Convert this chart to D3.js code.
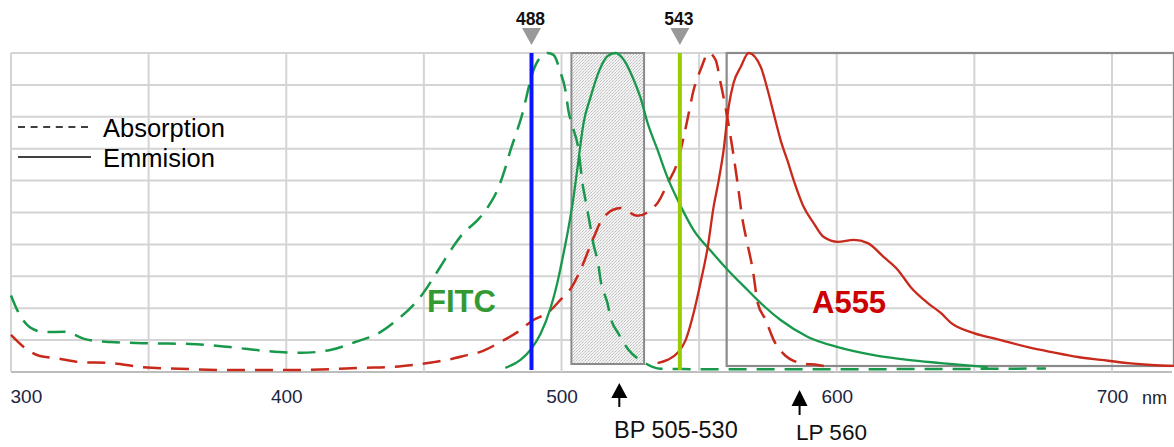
<!DOCTYPE html>
<html><head><meta charset="utf-8">
<script src="https://cdn.jsdelivr.net/npm/d3@7"></script>
<style>
html,body{margin:0;padding:0;background:#fff;}
svg{display:block;font-family:"Liberation Sans",Arial,Helvetica,sans-serif;}
</style></head>
<body>
<svg id="chart" width="1174" height="447"></svg>
<script>
// ---- data (wavelength nm, relative intensity %) ----
const xTickValues = [300, 400, 500, 600, 700];
const xGridValues = [300, 350, 400, 450, 500, 550, 600, 650, 700];
const yGridValues = [0, 10, 20, 30, 40, 50, 60, 70, 80, 90, 100];
const laserLabels = ["488", "543"];
const laserDrawnAt = [489.1, 543];   // laser line positions as drawn in the picture
const bpFilter = [503.6, 530];   // BP 505-530 box as drawn
const lpFilter = [560, 722.5];   // LP 560 box
const bpArrowAt = 521;
const lpArrowAt = 586.5;

const fitcAbsorption = [
 [300,24],[302.5,19],[306.9,14],[312.4,12.5],[319.6,12.6],[326.9,10.3],[336,9.4],[350.5,9],
 [365.1,8.8],[379.6,7.8],[392.4,6.6],[405.1,6],[416,6.9],[425.1,9.4],[434.2,12.5],[438.9,15.4],
 [448.7,23.5],[456,33],[460.4,39],[464.4,43.6],[469.5,47.6],[474.2,53],[476.7,57],[479.6,64],
 [481.5,69.6],[484,76],[485.8,81],[487.6,87.5],[488.7,91.5],[491.6,97.8],[494.9,100],[497.1,99.4],
 [499.6,94],[501.5,88],[502.5,82],[504,77],[506.2,69.6],[507.6,59.2],[508.7,54],[510.5,45.5],
 [511.3,41.4],[513.5,33],[514.2,28.8],[516.7,21.6],[517.8,17.2],[520.7,12],[524.4,6.9],
 [529.8,3.1],[536,1],[546.9,0.9],[561.5,0.9],[616,0.9],[676,1.1]
];
const fitcEmission = [
 [479.6,1.3],[485.1,3.8],[488.7,6.9],[492.4,12],[496,20],[498.5,28],[500.7,37],[502.5,45],
 [504.4,55],[505.8,64],[508,78],[510.5,86],[513.5,94],[516.7,99],[519.6,100],[522.5,98],
 [525.8,92.5],[528.7,86],[531.3,78],[534.9,69.6],[538.5,61],[543.3,52],[548,44.5],[554.2,38],
 [560.4,32],[567.6,25.7],[572.4,21.6],[579.6,16.3],[589.5,11],[600.4,7.8],[613.5,5.3],
 [625.8,3.8],[637.8,2.8],[654.9,1.5]
];
const a555Absorption = [
 [300,11.6],[305.1,7.5],[310.5,5],[316,4.4],[325.1,3.1],[336,2.8],[346.9,1.6],[365.1,0.9],
 [379.6,0.6],[397.8,0.6],[416,0.9],[426.9,1.3],[438.9,1.6],[446.2,2.2],[453.5,3.1],[458.5,3.8],
 [465.8,5.3],[470.5,6.3],[477.8,9.4],[484,12.5],[489.8,16.3],[494.9,18.5],[499.6,22.6],[504,27],
 [506.9,32],[511.6,42],[515.3,48.6],[521.5,51.4],[527.6,49],[534.9,53],[538.5,59],[542.2,66],
 [544.4,73.7],[546.2,81],[548,88.4],[550.5,94.7],[553.5,100],[556,97.8],[557.8,90.6],[558.9,86],
 [562.2,69.6],[564,59],[565.8,47.6],[567.6,40],[569.5,32],[571.3,21.6],[574.2,16.3],[577.1,10],
 [580.4,5.9],[586.9,2.8],[593.1,2.2],[598.9,1.3]
];
const a555Emission = [
 [534.9,2.8],[538.5,3.8],[542.2,6],[545.1,10],[548,18.5],[550.5,28],[553.1,39],[555.3,52],
 [557.1,60],[558.9,69.6],[560.7,83],[562.5,90.6],[565.1,95.6],[568,100],[572.4,95.6],[574.9,88.4],
 [577.1,81],[579.6,72.7],[582.2,66],[584.4,60],[588,51.7],[591.6,46.7],[595.3,42.3],[600.4,40.8],
 [606.2,41.4],[611.3,40.4],[617.1,36],[622.2,32],[626.9,26.6],[633.1,21.6],[637.8,18.5],
 [641.5,15.4],[649.8,12.2],[659.6,10],[669.5,7.8],[677.8,6.3],[687.6,4.7],[696,3.8],[705.8,2.8],
 [714.2,2.2],[722.5,1.9]
];

// ---- layout ----
const svg = d3.select("#chart");
const x = d3.scaleLinear().domain([300, 700]).range([11, 1112]);
const y = d3.scaleLinear().domain([0, 100]).range([372, 53]);
const xRight = 1172;
const GREEN = "#18984a", RED = "#c8291b";

// stipple pattern for BP filter
const defs = svg.append("defs");
const pat = defs.append("pattern").attr("id","stipple").attr("patternUnits","userSpaceOnUse")
  .attr("width",3).attr("height",3);
pat.append("rect").attr("width",3).attr("height",3).attr("fill","#f3f3f3");
pat.append("rect").attr("x",0).attr("y",0).attr("width",1).attr("height",1).attr("fill","#bdbdbd");
pat.append("rect").attr("x",2).attr("y",1).attr("width",1).attr("height",1).attr("fill","#d2d2d2");
pat.append("rect").attr("x",1).attr("y",2).attr("width",1).attr("height",1).attr("fill","#c6c6c6");

// grid
const grid = svg.append("g");
grid.selectAll("line.h").data(yGridValues).join("line")
  .attr("x1", x(300)).attr("x2", xRight).attr("y1", d => y(d)).attr("y2", d => y(d))
  .attr("stroke", d => d === 0 ? "#bdbdbd" : "#d4d4d4").attr("stroke-width", 2);
grid.selectAll("line.v").data(xGridValues).join("line")
  .attr("x1", d => x(d)).attr("x2", d => x(d)).attr("y1", y(100)).attr("y2", y(0))
  .attr("stroke", "#d4d4d4").attr("stroke-width", 2);

// filter boxes
svg.append("rect").attr("x", x(bpFilter[0])).attr("y", y(100))
  .attr("width", x(bpFilter[1]) - x(bpFilter[0])).attr("height", 364 - y(100))
  .attr("fill", "url(#stipple)").attr("stroke", "#8a8a8a").attr("stroke-width", 2);
svg.append("rect").attr("x", x(lpFilter[0])).attr("y", y(100))
  .attr("width", x(lpFilter[1]) - x(lpFilter[0])).attr("height", 366 - y(100))
  .attr("fill", "none").attr("stroke", "#8a8a8a").attr("stroke-width", 2.2);

// curves
const line = d3.line().x(d => x(d[0])).y(d => y(d[1])).curve(d3.curveMonotoneX);
const curves = [
  {data: fitcAbsorption, color: GREEN, dash: "18,10"},
  {data: a555Absorption, color: RED, dash: "18,10"},
  {data: fitcEmission, color: GREEN, dash: null},
  {data: a555Emission, color: RED, dash: null}
];
svg.append("g").selectAll("path").data(curves).join("path")
  .attr("d", d => line(d.data)).attr("fill", "none")
  .attr("stroke", d => d.color).attr("stroke-width", d => d.dash ? 2.5 : 2.3)
  .attr("stroke-dasharray", d => d.dash)
  .attr("stroke-linejoin", "round");

// laser lines
const laserColors = ["#0a14ff", "#99cc00"];
svg.append("g").selectAll("line").data(laserDrawnAt).join("line")
  .attr("x1", d => x(d)).attr("x2", d => x(d)).attr("y1", y(100)).attr("y2", 370)
  .attr("stroke", (d, i) => laserColors[i]).attr("stroke-width", 4);
// laser markers
const mk = svg.append("g").selectAll("g").data(laserDrawnAt).join("g")
  .attr("transform", d => `translate(${x(d)},0)`);
mk.append("path").attr("d", "M-9.5,28 L9.5,28 L0,45 Z").attr("fill", "#999");
mk.append("text").attr("y", 25).attr("x", -1).attr("text-anchor", "middle")
  .attr("font-size", 17.5).attr("font-weight", "bold").attr("fill", "#111")
  .text((d, i) => laserLabels[i]);

// x axis labels
const axis = d3.axisBottom(x).tickValues(xTickValues).tickSize(0).tickPadding(0);
const ag = svg.append("g").attr("transform", "translate(0,389)").call(axis);
ag.select(".domain").remove();
ag.selectAll("text").attr("font-size", 19).attr("fill", "#1b2440")
  .attr("font-family", "'Liberation Sans',Arial,sans-serif");
ag.selectAll(".tick").filter(d => d === 300).select("text").attr("text-anchor", "start").attr("dx", -1);
svg.append("text").attr("x", 1142).attr("y", 404).attr("font-size", 18).attr("fill", "#222").text("nm");

// filter arrows + labels
function arrow(xp, tipY, baseY, endY) {
  svg.append("path").attr("d", `M${xp},${tipY} L${xp-8},${baseY} L${xp+8},${baseY} Z`).attr("fill", "#000");
  svg.append("line").attr("x1", xp).attr("x2", xp).attr("y1", baseY - 1).attr("y2", endY)
    .attr("stroke", "#000").attr("stroke-width", 2);
}
arrow(x(bpArrowAt), 383, 398, 407);
arrow(x(lpArrowAt), 390, 406, 415);
svg.append("text").attr("x", 614).attr("y", 438).attr("font-size", 23.5).attr("fill", "#111").text("BP 505-530");
svg.append("text").attr("x", 796).attr("y", 440).attr("font-size", 22.5).attr("fill", "#111").text("LP 560");

// dye labels
svg.append("text").attr("x", 427).attr("y", 312).attr("font-size", 31).attr("font-weight", "bold")
  .attr("fill", "#339933").text("FITC");
svg.append("text").attr("x", 812).attr("y", 313).attr("font-size", 31).attr("font-weight", "bold")
  .attr("fill", "#cc0000").text("A555");

// legend
const lg = svg.append("g");
lg.append("line").attr("x1", 18).attr("x2", 92).attr("y1", 127).attr("y2", 127)
  .attr("stroke", "#000").attr("stroke-width", 1.6).attr("stroke-dasharray", "7,5.6");
lg.append("line").attr("x1", 18).attr("x2", 91).attr("y1", 157).attr("y2", 157)
  .attr("stroke", "#000").attr("stroke-width", 1.6);
lg.append("text").attr("x", 103).attr("y", 137).attr("font-size", 25.5).attr("fill", "#000").text("Absorption");
lg.append("text").attr("x", 103).attr("y", 167).attr("font-size", 25.5).attr("fill", "#000").text("Emmision");
</script>
</body></html>
